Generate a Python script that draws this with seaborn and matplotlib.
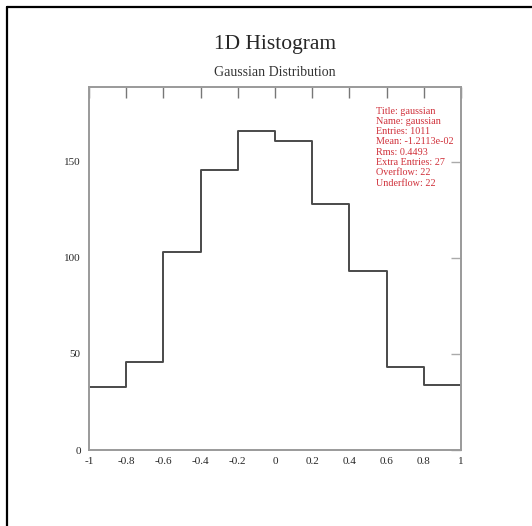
import numpy as np
import pandas as pd
import matplotlib
matplotlib.use("Agg")
import matplotlib.pyplot as plt
import seaborn as sns
from matplotlib.lines import Line2D

# Données
bin_edges = [-1.0, -0.8, -0.6, -0.4, -0.2, 0.0, 0.2, 0.4, 0.6, 0.8, 1.0]
counts = [33, 46, 103, 146, 166, 161, 128, 93, 43, 34]
x_ticks = [-1.0, -0.8, -0.6, -0.4, -0.2, 0.0, 0.2, 0.4, 0.6, 0.8, 1.0]
x_labels = ["-1", "-0.8", "-0.6", "-0.4", "-0.2", "0", "0.2", "0.4", "0.6", "0.8", "1"]
y_ticks = [0, 50, 100, 150]
stats_lines = ["Title: gaussian", "Name: gaussian", "Entries: 1011",
               "Mean: -1.2113e-02", "Rms: 0.4493", "Extra Entries: 27",
               "Overflow: 22", "Underflow: 22"]

sns.set_style("white")
plt.rcParams["font.family"] = ["Liberation Serif", "DejaVu Serif"]

df = pd.DataFrame({
    "x": [(bin_edges[i] + bin_edges[i + 1]) / 2 for i in range(len(counts))],
    "n": counts,
})

fig = plt.figure(figsize=(5.32, 5.26), dpi=100)
ax = fig.add_axes([89 / 532, 1 - 450 / 526, 372 / 532, 363 / 526])

sns.histplot(data=df, x="x", weights="n", bins=bin_edges, element="step",
             fill=False, color="#4a4a4a", linewidth=1.4, ax=ax)

ax.set_xlim(-1, 1)
ax.set_ylim(0, 189)
ax.set_xticks(x_ticks)
ax.set_xticklabels(x_labels)
ax.set_yticks(y_ticks)
ax.set_xlabel("")
ax.set_ylabel("")

for s in ax.spines.values():
    s.set_color("#9a9a9a")
    s.set_linewidth(1.4)

ax.tick_params(axis="x", direction="in", length=8, width=1, color="#777777",
               top=True, labelsize=8, pad=5)
ax.tick_params(axis="y", direction="in", length=7, width=1, color="#aaaaaa",
               right=True, labelsize=8, pad=6)

# Boîte de statistiques en rouge
for i, line in enumerate(stats_lines):
    fig.text(376 / 532, 1 - (111 + i * 10.3) / 526, line, color="#d0303a",
             fontsize=7.3, va="center", ha="left")

fig.text(275 / 532, 1 - 44 / 526, "1D Histogram", fontsize=15.5, ha="center", va="center")
fig.text(275 / 532, 1 - 73 / 526, "Gaussian Distribution", fontsize=10, ha="center", va="center",
         color="#333333")

# Cadre noir autour de la figure
fig.add_artist(Line2D([7 / 532, 7 / 532], [0, 1 - 7 / 526], color="black", lw=1.6,
                      transform=fig.transFigure))
fig.add_artist(Line2D([7 / 532, 1], [1 - 7 / 526, 1 - 7 / 526], color="black", lw=1.6,
                      transform=fig.transFigure))

fig.savefig("out.png", dpi=100)
